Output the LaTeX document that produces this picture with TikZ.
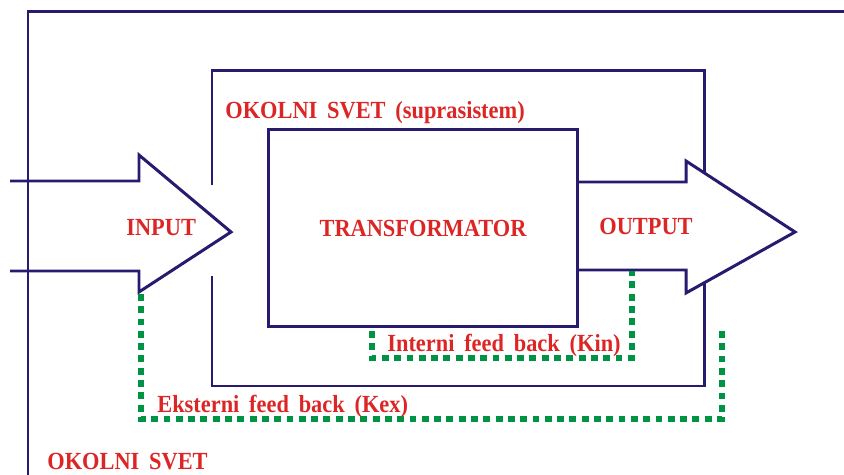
\documentclass[tikz,border=0pt]{standalone}
\usepackage{fontspec}
\setmainfont{Liberation Serif}[FakeStretch=0.91, WordSpace=1.75]
\usetikzlibrary{positioning}
\definecolor{sysnavy}{RGB}{40,26,110}
\definecolor{lblred}{RGB}{220,38,38}
\definecolor{fbgreen}{RGB}{0,146,69}

\begin{document}
\begin{tikzpicture}[x=0.02cm, y=-0.02cm, font=\fontsize{14}{16}\selectfont\bfseries,
    sysline/.style={draw=sysnavy, line width=1.7pt},
    lbl/.style={text=lblred, inner sep=0pt, anchor=base west},
    fback/.style={draw=fbgreen, line width=3.9pt, dash pattern=on 3.9pt off 3.1pt}]
    \useasboundingbox (0,0) rectangle (844,475);

    % okolni svet
    \draw[sysline] (28,475) -- (28,12) -- (844,12);
    % suprasistem, open on the left for the input
    \draw[sysline] (212,185) -- (212,71) -- (704,71) -- (704,386) -- (212,386) -- (212,276);

    % input arrow
    \draw[sysline] (10,181) -- (139,181) -- (139,155) -- (231,232) -- (139,292) -- (139,271) -- (10,271);
    % output arrow
    \fill[white] (578,182) -- (686,182) -- (686,161) -- (795,232) -- (686,293) -- (686,270) -- (578,270) -- cycle;
    \draw[sysline] (578,182) -- (686,182) -- (686,161) -- (795,232) -- (686,293) -- (686,270) -- (578,270);

    \node[sysline, minimum width=6.2cm, minimum height=3.96cm, text=lblred] (trans) at (423,228) {TRANSFORMATOR};

    % feed back loops
    \draw[fback] (141,294) -- (141,419) -- (722,419) -- (722,330);
    \draw[fback] (372,331) -- (372,358) -- (632,358) -- (632,271);

    \node[lbl] (supra) at (225,119) {OKOLNI SVET (suprasistem)};
    \node[lbl] (input) at (126,236) {INPUT};
    \node[lbl] (output) at (599,235) {OUTPUT};
    \node[lbl] (kin) at (387,352) {Interni feed back (Kin)};
    \node[lbl] (kex) at (157,413) {Eksterni feed back (Kex)};
    \node[lbl] (okolni) at (47,469) {OKOLNI SVET};
\end{tikzpicture}
\end{document}
